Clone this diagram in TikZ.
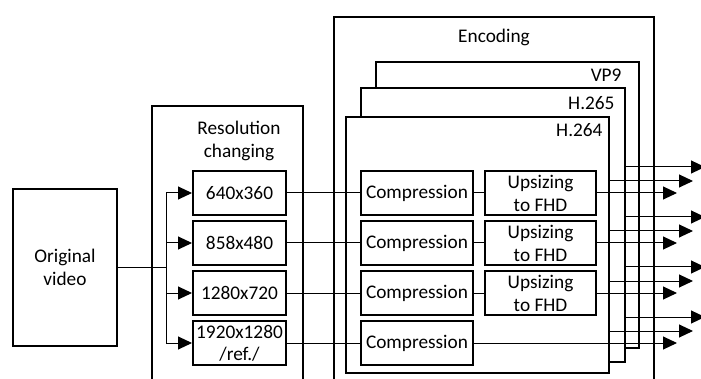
\documentclass[tikz,border=0pt]{standalone}
\usepackage{fontspec}
\setmainfont{Carlito}
\usetikzlibrary{arrows.meta,calc}
\begin{document}
\begin{tikzpicture}[x=1pt,y=-1pt,
  every node/.style={font=\fontsize{19.3}{23}\selectfont},
  box/.style={draw,line width=2pt,fill=white,inner sep=0pt,align=center},
  frame/.style={draw,line width=2pt,fill=white,inner sep=0pt},
  conn/.style={line width=1pt},
  arr/.style={line width=1pt,-{Triangle[length=14pt,width=13pt]}}]
\useasboundingbox (0,0) rectangle (701,379);
% open frames
\draw[line width=2pt] (152,382) -- (152,106) -- (303,106) -- (303,382);
\node at (239,140.5) [align=center] {Resolution\\changing};
\draw[line width=2pt] (334,382) -- (334,17) -- (654,17) -- (654,382);
\node (enc) at (494,37) {Encoding};
% codec frames
\node[frame,minimum width=263pt,minimum height=286pt] (vp9) at (507.5,205) {};
\node[anchor=east] (lvp9) at (625,75) {VP9};
\node[frame,minimum width=264pt,minimum height=274pt] (h265) at (493,225) {};
\node[anchor=east] (lh265) at (618,103) {H.265};
\node[frame,minimum width=263pt,minimum height=256pt] (h264) at (477.5,245) {};
\node[anchor=east] (lh264) at (606,130) {H.264};
% original
\node[box,minimum width=104pt,minimum height=157pt] (orig) at (65,267.5) {Original\\video};
% resolution boxes
\foreach \i/\y/\t in {1/193/640x360,2/243/858x480,3/293/1280x720,4/343/{1920x1280\\[-1pt]/ref./}}{
  \node[box,minimum width=93pt,minimum height=44pt] (r\i) at (239.5,\y) {\t};
  \node[box,minimum width=112pt,minimum height=44pt] (c\i) at (417,\y) {Compression};
}
\foreach \i/\y in {1/193,2/243,3/293}{
  \node[box,minimum width=111pt,minimum height=44pt] (u\i) at (540.5,\y) {Upsizing\\to FHD};
}
% input
\coordinate (j) at (166,267.5);
\draw[conn] (orig.east) -- (j);
\draw[conn] (j |- r1) -- (j |- r4);
\foreach \i in {1,2,3,4}{
  \draw[arr] (j |- r\i) -- (r\i.west);
  \draw[conn] (r\i.east) -- (c\i.west);
}
\foreach \i in {1,2,3}{
  \draw[conn] (c\i.east) -- (u\i.west);
}
% outputs
\coordinate (t1) at (677,0);
\coordinate (t2) at (693,0);
\coordinate (t3) at (705,0);
\foreach \i in {1,2,3}{
  \draw[arr] (u\i.east) -- (u\i.east -| t1);
}
\draw[arr] (c4.east) -- (c4.east -| t1);
\foreach \i in {1,2,3,4}{
  \draw[arr] ($(h264.east |- c\i)+(0,-12)$) -- ($(t2 |- c\i)+(0,-12)$);
  \draw[arr] ($(h265.east |- c\i)+(0,-26)$) -- ($(t3 |- c\i)+(0,-26)$);
}
\end{tikzpicture}
\end{document}
